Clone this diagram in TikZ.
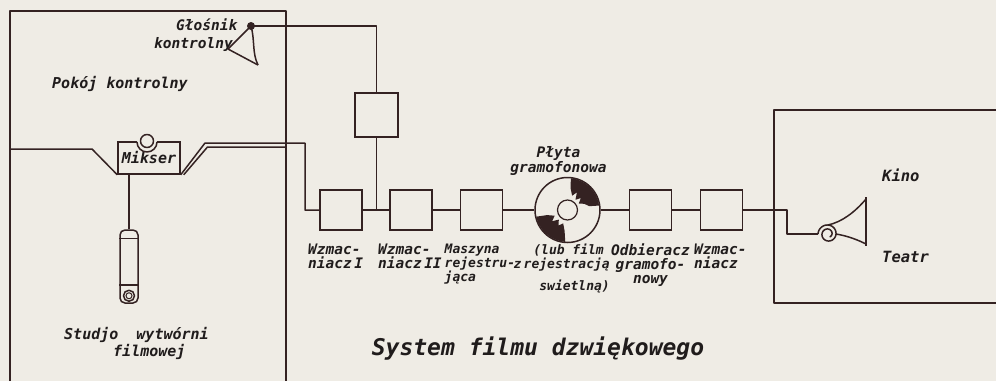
\documentclass[tikz,border=0pt]{standalone}
\usepackage{fontspec}
\newfontfamily\lettering{DejaVu Sans Mono}
\usepackage{tikz}
\usetikzlibrary{positioning}
\definecolor{paper}{RGB}{239,236,229}
\definecolor{ink}{RGB}{52,34,34}
\definecolor{letterink}{RGB}{32,28,28}
\newcommand{\lsize}[1]{\lettering\bfseries\itshape\fontsize{#1}{14}\selectfont}
\tikzset{
  ampbox/.style={draw=ink,line width=1.5pt,minimum width=42pt,minimum height=40pt,inner sep=0pt},
  lettered/.style={font=\lsize{#1},text=letterink,inner sep=0pt},
  lettered/.default=14.5
}

\begin{document}
\begin{tikzpicture}[x=1pt,y=-1pt,
  wire/.style={draw=ink,line width=1.5pt,line join=round}
]
  \path[use as bounding box,fill=paper] (0,0) rectangle (996,381);

  % walls of the two rooms
  \draw[wire] (10,381) -- (10,11) -- (286,11) -- (286,381);
  \draw[wire] (996,110) -- (774,110) -- (774,303) -- (996,303);

  % recording chain
  \node[ampbox] (amp1) at (341,210) {};
  \node[ampbox] (amp2) at (411,210) {};
  \node[ampbox] (recorder) at (481.5,210) {};
  \node[circle,draw=ink,line width=1.5pt,minimum size=65pt,inner sep=0pt] (disc) at (567.5,210) {};
  \node[ampbox] (pickup) at (650.5,210) {};
  \node[ampbox] (amp3) at (721.5,210) {};
  \node[ampbox,minimum width=43pt,minimum height=44pt] (monamp) at (376.5,115) {};

  \node[draw=ink,line width=1.5pt,minimum width=62pt,minimum height=32pt,lettered=15] (mixer) at (149,158) {Mikser};
  \node[draw=ink,line width=1.5pt,rounded corners=5pt,minimum width=18pt,minimum height=73pt,inner sep=0pt] (mic) at (129,266.5) {};
  \node[circle,fill=ink,minimum size=8pt,inner sep=0pt] (spk) at (251,26) {};
  \coordinate (hornin) at (818,234);

  % wiring
  \draw[wire] (10,149) -- (92,149) -- (mixer.south west);
  \draw[wire] (mixer.south east) -- (205,143) -- (305,143) |- (amp1);
  \draw[wire] ([xshift=3pt]mixer.south east) -- (207.5,147) -- (286,147);
  \draw[wire] (mic.north) -- (mic.north |- mixer.south);
  \draw[wire] (spk.center) -| (monamp.north);
  \draw[wire] (monamp.south) -- (monamp.south |- amp1.east);
  \draw[wire] (amp1) -- (amp2);
  \draw[wire] (amp2) -- (recorder);
  \draw[wire] (recorder) -- (disc);
  \draw[wire] (disc) -- (pickup);
  \draw[wire] (pickup) -- (amp3);
  \draw[wire] (amp3) -- (787,210) |- (hornin);

  % mixer knob
  \fill[paper] (137,140) rectangle (157,144.5);
  \draw[wire] (137,142) arc[start angle=180,end angle=0,radius=10];
  \draw[wire] (147,141) circle[radius=6.5];

  % microphone
  \draw[wire] ([yshift=-9pt]mic.north west) -- ([yshift=-9pt]mic.north east);
  \draw[wire] ([yshift=19pt]mic.south west) -- ([yshift=19pt]mic.south east);
  \draw[wire] ([yshift=8pt]mic.south) circle[radius=5.5];
  \draw[ink,line width=1pt] ([yshift=8pt]mic.south) circle[radius=3];

  % control loudspeaker
  \draw[wire] (spk.center) -- (228,49) -- (258,65);
  \draw[wire] (spk.center) .. controls (255,40) and (252,53) .. (258,65);

  % record
  \begin{scope}[shift={(disc.center)}]
    \draw[wire,line width=1.2pt] (0,0) circle[radius=10];
    \fill[ink] (-8:32) arc[start angle=-8,end angle=-84,radius=32] -- (-82:22) -- (-72:15) -- (-62:20) -- (-52:13) -- (-42:18) -- (-30:13) -- (-20:18) -- (-10:22) -- cycle;
    \fill[ink] (94:32) arc[start angle=94,end angle=168,radius=32] -- (166:21) -- (156:14) -- (144:19) -- (132:13) -- (120:18) -- (108:14) -- (98:21) -- cycle;
  \end{scope}

  % horn in the theatre
  \draw[wire] plot[domain=0:600,samples=80,smooth] ({828+(10-\x/90)*cos(180+\x)},{234+(10-\x/90)*sin(180+\x)});
  \draw[wire] (828,225) .. controls (842,222) and (855,212) .. (866,199);
  \draw[wire] (836,234) .. controls (848,236) and (858,240) .. (866,244);
  \draw[wire] (866,197) -- (866,246);

  % lettering
  \node[lettered=15,anchor=base west] (ctrlroom) at (52,88) {Pokój kontrolny};
  \node[lettered,anchor=base west] (spkname) at (176,30) {Głośnik};
  \node[lettered,anchor=base west] (spkname2) at (154,48) {kontrolny};
  \node[lettered=15,anchor=base west] (studio) at (64,339) {Studjo\ \ wytwórni};
  \node[lettered=15,anchor=base west] (studio2) at (113,356) {filmowej};
  \node[lettered,align=center,above=1pt of disc,xshift=-9pt] (disctitle) {Płyta\\gramofonowa};
  \node[lettered,align=left,below right=13pt and -33pt of amp1.south] (amp1name) {Wzmac-\\niacz\,I};
  \node[lettered,align=left,below right=13pt and -33pt of amp2.south] (amp2name) {Wzmac-\\niacz\,II};
  \node[lettered=13,align=left,below right=13pt and -37pt of recorder.south] (recname) {Maszyna\\rejestru-\\jąca};
  \node[lettered=13,align=right,below left=0.5pt and -42.5pt of disc.south] (discnote) {(lub film\hspace*{6pt}\\z\,rejestracją\\[8pt]swietlną)};
  \node[lettered,align=center,below=13pt of pickup] (pickupname) {Odbieracz\\gramofo-\\nowy};
  \node[lettered,align=left,below right=13pt and -27.5pt of amp3.south] (amp3name) {Wzmac-\\niacz};
  \node[lettered=15.5,anchor=base west] (cinema) at (882,181) {Kino};
  \node[lettered=15.5,anchor=base west] (theatre) at (882,262) {Teatr};
  \node[lettered=23,anchor=base] (title) at (538,355.5) {System filmu dzwiękowego};
\end{tikzpicture}
\end{document}
